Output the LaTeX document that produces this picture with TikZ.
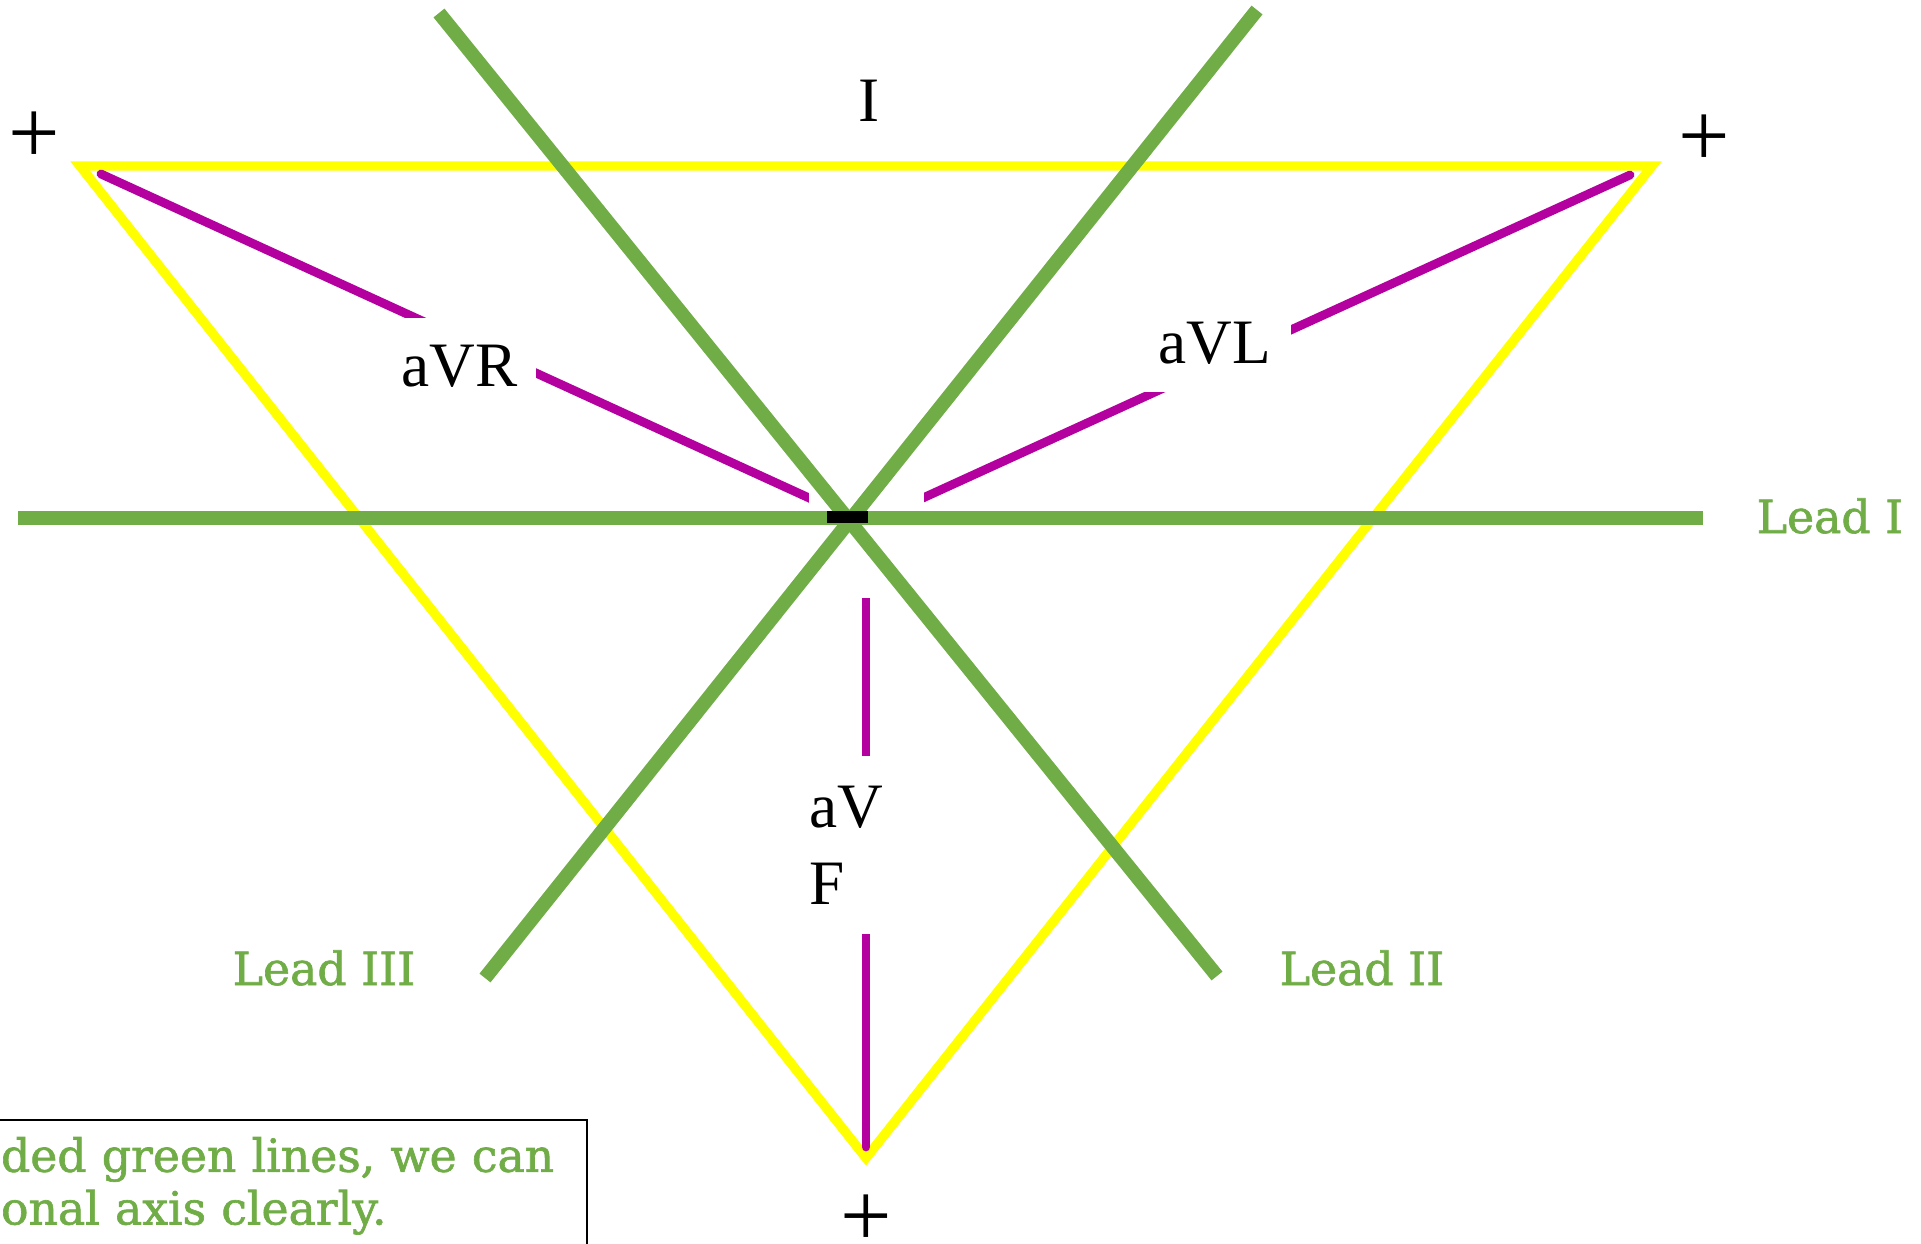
\documentclass[tikz,border=0pt]{standalone}
\usepackage{fontspec}
\setmainfont{Liberation Serif}
\newfontfamily\slabfont[FakeBold=1.4]{DejaVu Serif}
\usetikzlibrary{positioning}
\definecolor{cG}{HTML}{70AD47}
\definecolor{cY}{HTML}{FFFF00}
\definecolor{cM}{HTML}{B4009E}
\tikzset{
  tri/.style={draw=cY,line width=2.7pt},
  leadaxis/.style={draw=cG,line width=4pt},
  augaxis/.style={draw=cM,line width=2.5pt,line cap=round},
  tag/.style={fill=white,inner sep=0pt,font=\fontsize{18}{22}\selectfont},
  leadtag/.style={text=cG,inner sep=0pt,anchor=base,
                  font=\slabfont\fontsize{13}{15}\selectfont},
  pole/.style={inner sep=0pt,font=\fontsize{26}{30}\selectfont},
}

\begin{document}
\begin{tikzpicture}
  \useasboundingbox (0,0) rectangle (19.21,-12.44);
  % Einthoven triangle
  \coordinate (RA) at (0.80,-1.66);
  \coordinate (LA) at (16.52,-1.66);
  \coordinate (LL) at (8.66,-11.58);
  \draw[tri] (RA) -- (LA) -- (LL) -- cycle;
  % augmented leads, cut by their labels
  \coordinate (mid) at (8.66,-5.24);
  \coordinate (rEnd) at (1.01,-1.74);
  \coordinate (lEnd) at (16.30,-1.75);
  \coordinate (fEnd) at (8.66,-11.47);
  \draw[augaxis] (rEnd) -- (mid);
  \draw[augaxis] (lEnd) -- (mid);
  \draw[augaxis] (fEnd) -- (mid);
  \node[tag,minimum width=1.53cm,minimum height=0.98cm] (aVR) at (4.595,-3.665) {aVR};
  \node[tag,minimum width=1.53cm,minimum height=0.98cm] (aVL) at (12.145,-3.43) {aVL};
  \node[tag,align=left,text width=0.72cm,minimum height=1.78cm] (aVF) at (8.45,-8.45) {aV\\F};
  \node[fill=white,minimum width=1.15cm,minimum height=1.62cm,inner sep=0pt] (hub) at (8.66,-5.17) {};
  % limb leads
  \coordinate (Iw) at (0.18,-5.18);
  \coordinate (Ie) at (17.03,-5.18);
  \coordinate (IIa) at (4.39,-0.13);
  \coordinate (IIb) at (12.17,-9.76);
  \coordinate (IIIa) at (12.57,-0.10);
  \coordinate (IIIb) at (4.85,-9.78);
  \draw[leadaxis] (Iw) -- (Ie);
  \draw[leadaxis] (IIa) -- (IIb);
  \draw[leadaxis] (IIIa) -- (IIIb);
  \node[fill=black,minimum width=0.41cm,minimum height=0.12cm,inner sep=0pt] (neg) at (8.475,-5.17) {};
  \node[leadtag] (tI) at (18.30,-5.33) {Lead I};
  \node[leadtag] (tII) at (13.62,-9.85) {Lead II};
  \node[leadtag] (tIII) at (3.24,-9.85) {Lead III};
  % poles
  \node[tag] (topI) at (8.69,-1.005) {I};
  \node[pole] (pR) at (0.34,-1.38) {+};
  \node[pole] (pL) at (17.045,-1.41) {+};
  \node[pole] (pF) at (8.66,-12.21) {+};
  % note, cut at the page edge
  \node[draw=black,line width=0.6pt,anchor=north west,align=left,text width=5.66cm,
        inner xsep=0.2cm,inner ysep=0.17cm,text=cG,
        font=\slabfont\fontsize{13}{15}\selectfont] (note) at (-0.2,-11.19)
    {ded green lines, we can\\onal axis clearly.};
\end{tikzpicture}
\end{document}
